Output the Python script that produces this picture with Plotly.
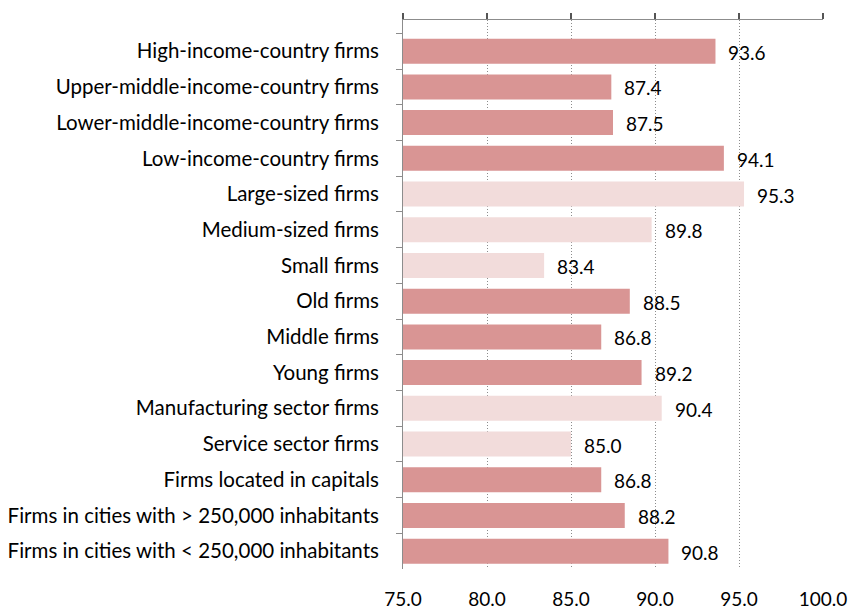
import plotly.graph_objects as go

categories = [
    "High-income-country firms",
    "Upper-middle-income-country firms",
    "Lower-middle-income-country firms",
    "Low-income-country firms",
    "Large-sized firms",
    "Medium-sized firms",
    "Small firms",
    "Old firms",
    "Middle firms",
    "Young firms",
    "Manufacturing sector firms",
    "Service sector firms",
    "Firms located in capitals",
    "Firms in cities with > 250,000 inhabitants",
    "Firms in cities with < 250,000 inhabitants",
]
values = [93.6, 87.4, 87.5, 94.1, 95.3, 89.8, 83.4, 88.5, 86.8, 89.2, 90.4, 85.0, 86.8, 88.2, 90.8]
groups = ["dark"] * 4 + ["light"] * 3 + ["dark"] * 3 + ["light"] * 2 + ["dark"] * 3
tick_vals = [75, 80, 85, 90, 95, 100]
tick_text = ["75.0", "80.0", "85.0", "90.0", "95.0", "100.0"]

palette = {"dark": "#D99594", "light": "#F2DCDB"}
colors = [palette[g] for g in groups]
FONT = "Lato, 'Open Sans', sans-serif"
FS_CAT = 20.5
FS_NUM = 19

fig = go.Figure()
fig.add_trace(go.Bar(
    y=categories, x=values, orientation="h",
    marker=dict(color=colors, line=dict(width=0)),
    width=0.7, showlegend=False, hoverinfo="x+y",
))
# trace on bottom label axis
fig.add_trace(go.Scatter(x=[75, 100], y=[categories[0], categories[0]], xaxis="x2",
                         mode="markers", marker=dict(opacity=0), showlegend=False,
                         hoverinfo="skip"))

for c, v in zip(categories, values):
    fig.add_annotation(x=v, y=c, text=f"{v:.1f}", showarrow=False,
                       xanchor="left", xshift=11, yshift=-1,
                       font=dict(family=FONT, size=FS_NUM, color="#000000"))

fig.update_layout(
    width=850, height=609,
    margin=dict(l=403, r=27, t=20, b=40, autoexpand=False),
    paper_bgcolor="white", plot_bgcolor="white",
    font=dict(family=FONT, size=FS_CAT, color="#000000"),
    xaxis=dict(
        range=[75, 100], tickvals=tick_vals, side="top",
        showgrid=True, gridcolor="#8c8c8c", griddash="1px,2px", gridwidth=1,
        showline=True, linecolor="#8c8c8c", linewidth=1,
        ticks="outside", ticklen=6, tickcolor="#555555", tickwidth=1.5,
        showticklabels=False, zeroline=False, automargin=False,
    ),
    xaxis2=dict(
        range=[75, 100], tickvals=tick_vals, ticktext=tick_text,
        overlaying="x", side="bottom",
        showline=False, ticks="", showgrid=False, zeroline=False,
        ticklabelstandoff=17, automargin=False,
        tickfont=dict(family=FONT, size=FS_NUM),
    ),
    yaxis=dict(
        autorange="reversed", type="category",
        showline=True, linecolor="#8c8c8c", linewidth=1,
        ticks="outside", ticklen=6, tickcolor="#8c8c8c", tickson="boundaries",
        ticklabelstandoff=19, showgrid=False, automargin=False,
        tickfont=dict(family=FONT, size=FS_CAT),
    ),
)

fig.write_html("out.html", config={"displayModeBar": False},
               post_script="document.body.style.margin='0';")
